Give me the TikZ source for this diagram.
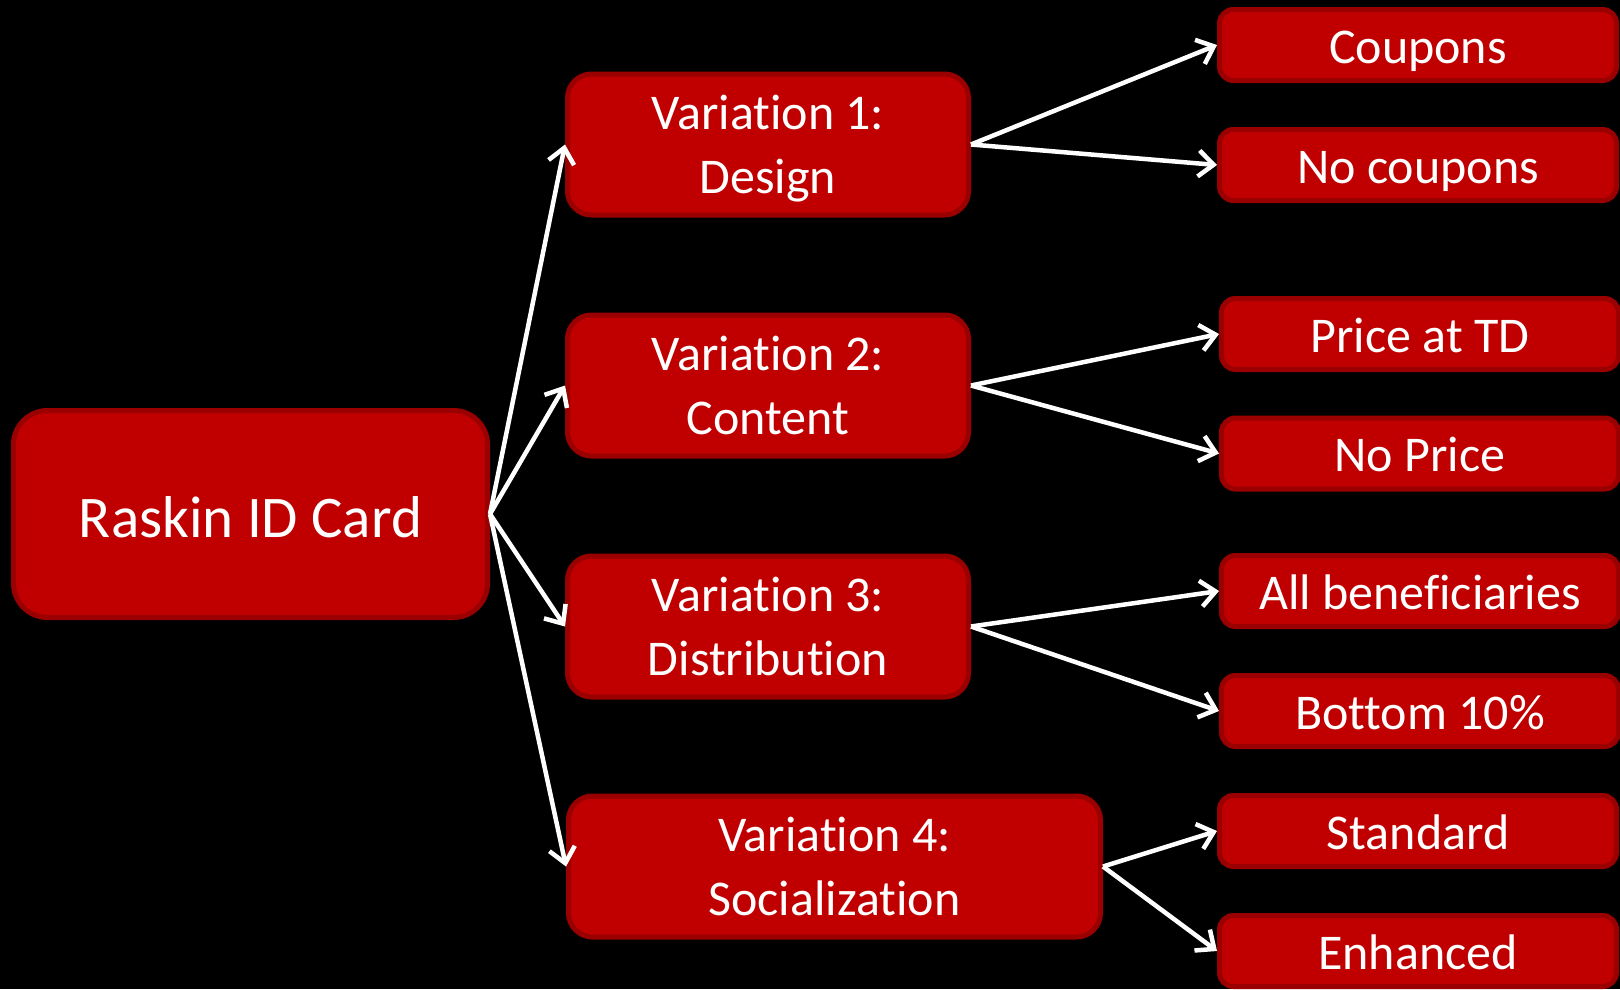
\documentclass[tikz,border=0pt]{standalone}
\usepackage{fontspec}
\setmainfont{Carlito}[Ligatures=NoCommon]
\usetikzlibrary{arrows.meta}
\definecolor{boxfill}{HTML}{C00000}
\definecolor{boxedge}{HTML}{9A0000}
\tikzset{
  card/.style={draw=boxedge, fill=boxfill, line width=5pt, text=white,
    inner sep=0pt, align=center},
  rootbox/.style={card, rounded corners=34pt, minimum width=474pt, minimum height=207pt,
    font=\fontsize{59}{70}\selectfont, text height=56pt, text depth=10pt},
  varbox/.style={card, rounded corners=24pt, minimum height=141pt,
    font=\fontsize{50}{64}\selectfont, text height=105pt, text depth=8pt},
  leafbox/.style={card, rounded corners=14pt, minimum width=397pt, minimum height=71pt,
    font=\fontsize{50}{60}\selectfont, text height=42pt, text depth=6pt},
  link/.style={draw=white, line width=4.5pt,
    -{Straight Barb[length=15pt,width=26pt,line width=4.5pt]}},
}
\begin{document}
\begin{tikzpicture}[x=1pt,y=-1pt]
  \path[use as bounding box, fill=black] (0,0) rectangle (1620,989);

  % root
  \node[rootbox] (root) at (250.5,514) {Raskin ID Card};

  % second level
  \node[varbox, minimum width=401pt] (v1) at (768,144.5) {Variation 1:\\Design};
  \node[varbox, minimum width=401pt] (v2) at (768,385.5) {Variation 2:\\Content};
  \node[varbox, minimum width=401pt] (v3) at (768,626.5) {Variation 3:\\Distribution};
  \node[varbox, minimum width=532pt] (v4) at (834.5,866.5) {Variation 4:\\Socialization};

  % leaves
  \node[leafbox] (l1) at (1418,45) {Coupons};
  \node[leafbox] (l2) at (1418,165) {No coupons};
  \node[leafbox] (l3) at (1420,334) {Price at TD};
  \node[leafbox] (l4) at (1420,453.5) {No Price};
  \node[leafbox] (l5) at (1420,591) {All beneficiaries};
  \node[leafbox] (l6) at (1420,711) {Bottom 10\%};
  \node[leafbox] (l7) at (1418,831) {Standard};
  \node[leafbox] (l8) at (1418,951) {Enhanced};

  % connectors
  \foreach \v in {v1,v2,v3,v4}
    \draw[link] (root.east) -- (\v.west);
  \draw[link] (v1.east) -- (l1.west);
  \draw[link] (v1.east) -- (l2.west);
  \draw[link] (v2.east) -- (l3.west);
  \draw[link] (v2.east) -- (l4.west);
  \draw[link] (v3.east) -- (l5.west);
  \draw[link] (v3.east) -- (l6.west);
  \draw[link] (v4.east) -- (l7.west);
  \draw[link] (v4.east) -- (l8.west);
\end{tikzpicture}
\end{document}
